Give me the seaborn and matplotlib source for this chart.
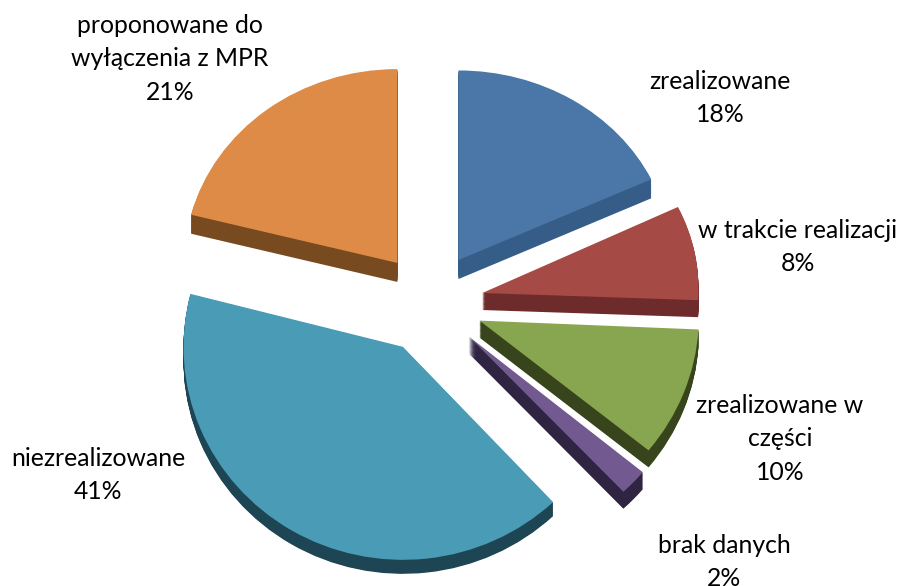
import matplotlib
matplotlib.use("Agg")
import matplotlib.pyplot as plt
from matplotlib.transforms import Affine2D
import seaborn as sns

# data
labels = ["zrealizowane", "w trakcie realizacji", "zrealizowane w\nczęści",
          "brak danych", "niezrealizowane", "proponowane do\nwyłączenia z MPR"]
shares = [18, 8, 10, 2, 41, 21]

# styling
top_colors = ["#4a76a8", "#a64a45", "#88a54f", "#725a90", "#4a9cb6", "#de8b48"]
side_colors = ["#365c88", "#6e2b2b", "#38441c", "#2f2442", "#1d4553", "#784a20"]
explode = [0.25, 0.25, 0.25, 0.25, 0.25, 0.25]
# the original has a perspective view, so each slice gets its own small correction
stretch = [1.0, 1.015, 1.03, 1.06, 1.03, 1.0]
squish = [0.89, 0.90, 0.98, 1.0, 1.0, 0.91]
shear = [0.0, 0.023, 0.02, 0.0, 0.0, 0.0]
lift_px = [0, 2, 4, 5, 4, 0]
depth_px = [19, 17, 17, 17, 14, 19]
label_pos = [(720, 98), (798, 247), (780, 439), (724, 562), (98, 475), (170, 59)]

W, H = 899, 586
R = 213
CX, CY = 430, 305

sns.set_theme(style="white")
plt.rcParams["font.family"] = ["Lato", "DejaVu Sans"]

fig = plt.figure(figsize=(W / 100, H / 100), dpi=100)
ax = fig.add_axes([0, 0, 1, 1])


def draw_pie(colors, offset_px):
    wedges, _ = ax.pie(shares, explode=explode, colors=colors, startangle=90,
                       counterclock=False, radius=1, frame=True,
                       wedgeprops={"linewidth": 0})
    for i, w in enumerate(wedges):
        cx, cy = w.center
        dy = (lift_px[i] - offset_px[i]) / R
        shape = Affine2D.from_values(stretch[i], shear[i], 0, squish[i], 0, 0)
        tr = Affine2D().translate(-cx, -cy) + shape + Affine2D().translate(cx, cy + dy)
        w.set_transform(tr + ax.transData)


# side walls first, stacked downwards, then the top faces
for step in range(20, 0, -1):
    draw_pie(side_colors, [d * step / 20 for d in depth_px])
draw_pie(top_colors, [0] * 6)

ax.set_aspect("auto")
ax.set_xlim(-CX / R, (W - CX) / R)
ax.set_ylim(-(H - CY) / R, CY / R)
ax.axis("off")

for name, share, (px, py) in zip(labels, shares, label_pos):
    ax.text(px / W, 1 - py / H, f"{name}\n{share}%", transform=ax.transAxes,
            ha="center", va="center", fontsize=17.8, color="black", linespacing=1.53)

fig.savefig("out.png", dpi=100)
